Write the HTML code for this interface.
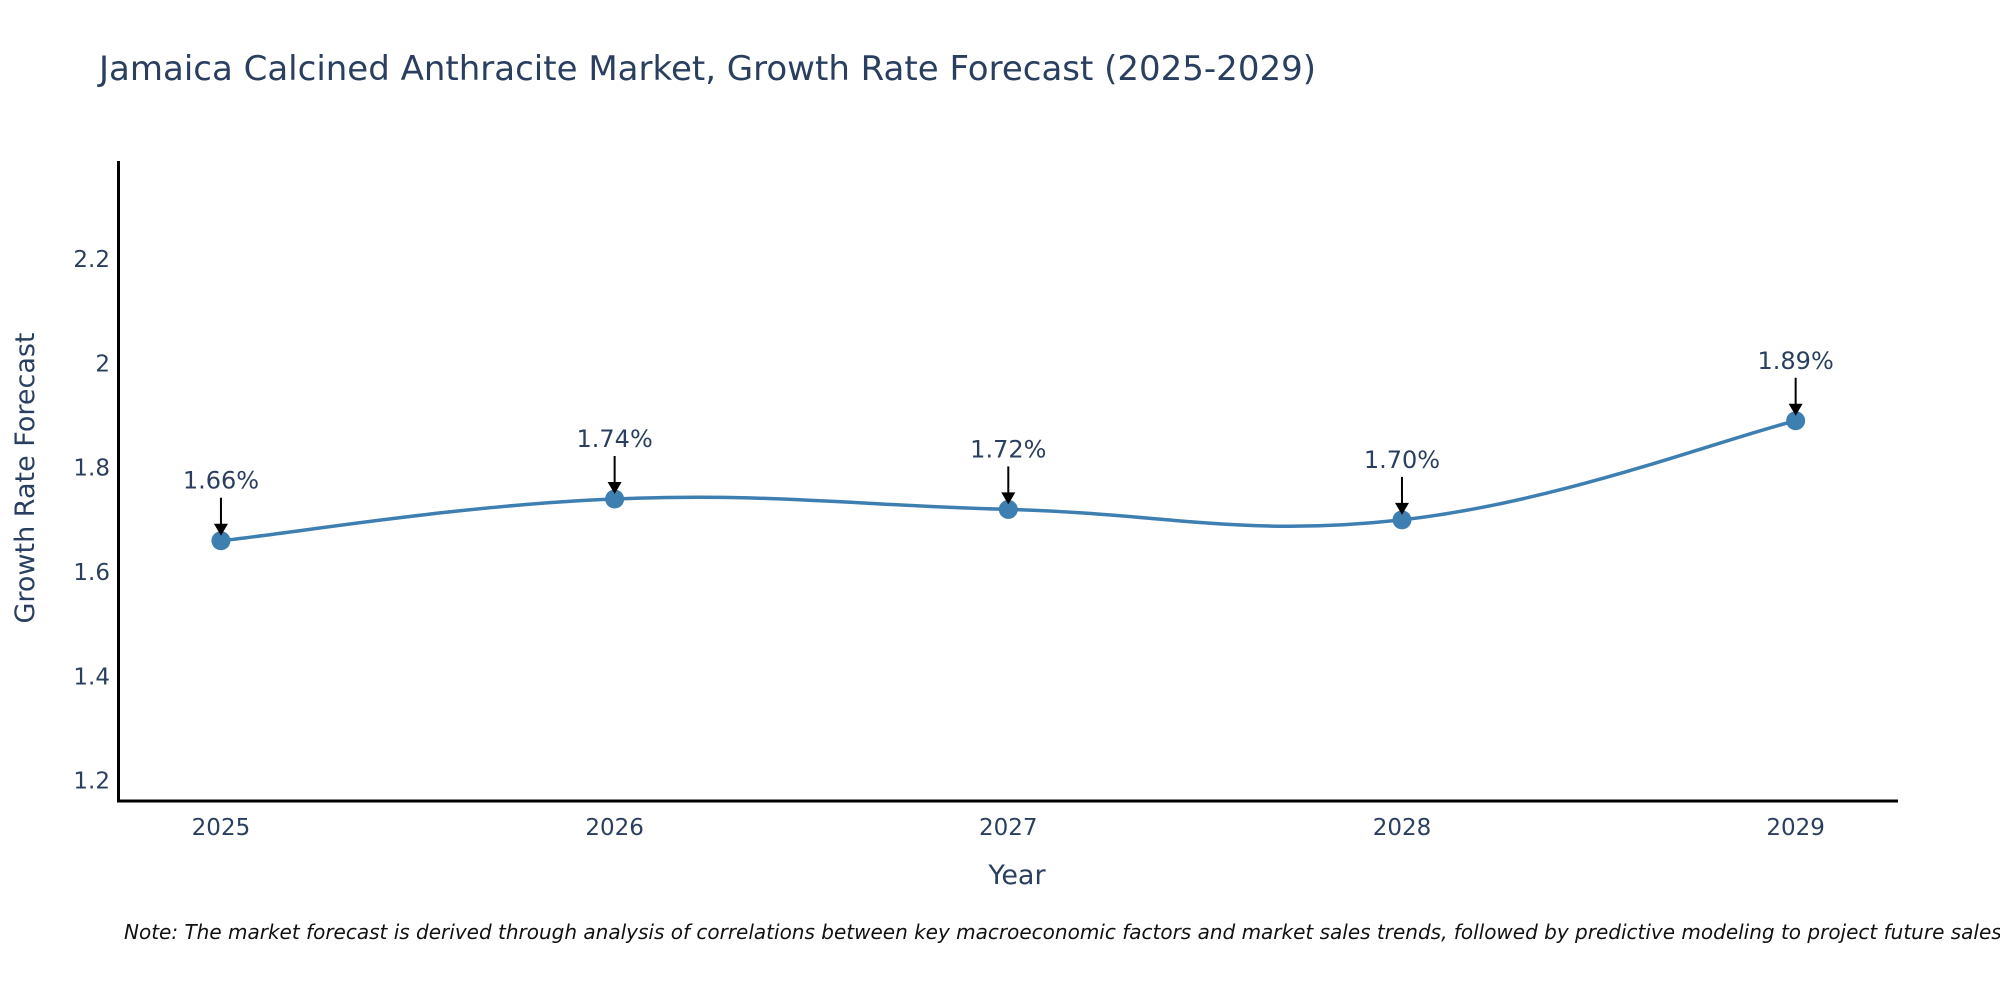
<!DOCTYPE html>
<html><head><meta charset="utf-8"><style>
body{margin:0;background:#fff;}
svg{display:block;font-family:"DejaVu Sans","Liberation Sans",sans-serif;}
</style></head><body>
<svg id="chart" width="2000" height="1000">
<text x="99" y="80" font-size="34" fill="#2a3f5f">Jamaica Calcined Anthracite Market, Growth Rate Forecast (2025-2029)</text>
<g id="yticks"></g>
<g id="xticks"></g>
<g id="series"></g>
<g id="annots"></g>
<line x1="118.5" y1="161" x2="118.5" y2="802" stroke="#000" stroke-width="3"/>
<line x1="117" y1="801" x2="1898" y2="801" stroke="#000" stroke-width="3"/>
<text x="1017" y="884" font-size="27" fill="#2a3f5f" text-anchor="middle">Year</text>
<text transform="translate(34,478) rotate(-90)" font-size="27" fill="#2a3f5f" text-anchor="middle">Growth Rate Forecast</text>
<text x="124" y="939" font-size="20" font-style="italic" fill="#111">Note: The market forecast is derived through analysis of correlations between key macroeconomic factors and market sales trends, followed by predictive modeling to project future sales.</text>
</svg>
<script>
const years = [2025, 2026, 2027, 2028, 2029];
const growth = [1.66, 1.74, 1.72, 1.70, 1.89];
const labels = ["1.66%", "1.74%", "1.72%", "1.70%", "1.89%"];
const yTickValues = [1.2, 1.4, 1.6, 1.8, 2, 2.2];
const yTickLabels = ["1.2", "1.4", "1.6", "1.8", "2", "2.2"];

const NS = "http://www.w3.org/2000/svg";
const X0 = 118.6, X1 = 1898, XMIN = 2024.74, XMAX = 2029.26;
const Y0 = 801, Y1 = 161, YMIN = 1.161, YMAX = 2.388;
function xs(v){return X0 + (v - XMIN) / (XMAX - XMIN) * (X1 - X0);}
function ys(v){return Y0 - (v - YMIN) / (YMAX - YMIN) * (Y0 - Y1);}
function mk(tag, attrs, parent){const e=document.createElementNS(NS,tag);for(const k in attrs)e.setAttribute(k,attrs[k]);parent.appendChild(e);return e;}

const yt = document.getElementById('yticks');
yTickValues.forEach((v,i)=>{
  const t = mk('text',{x:110,y:ys(v)+8,'font-size':23,fill:'#2a3f5f','text-anchor':'end'},yt);
  
  
  t.textContent = yTickLabels[i];
});
const xt = document.getElementById('xticks');
years.forEach(v=>{
  const t = mk('text',{x:xs(v),y:835,'font-size':23,fill:'#2a3f5f','text-anchor':'middle'},xt);
  
  
  t.textContent = String(v);
});

const pts = years.map((y,i)=>[xs(y), ys(growth[i])]);
let d = `M${pts[0][0]},${pts[0][1]}`;
const s = 0.2;
for(let i=0;i<pts.length-1;i++){
  const p0=pts[Math.max(0,i-1)], p1=pts[i], p2=pts[i+1], p3=pts[Math.min(pts.length-1,i+2)];
  const c1=[p1[0]+(p2[0]-p0[0])*s, p1[1]+(p2[1]-p0[1])*s];
  const c2=[p2[0]-(p3[0]-p1[0])*s, p2[1]-(p3[1]-p1[1])*s];
  d += ` C${c1[0]},${c1[1]} ${c2[0]},${c2[1]} ${p2[0]},${p2[1]}`;
}
const sg = document.getElementById('series');
const line = mk('path',{d:d,fill:'none',stroke:'#3d7fb1','stroke-width':3.5},sg);


pts.forEach(p=>{
  const c = mk('circle',{cx:p[0],cy:p[1],r:9.5,fill:'#3d7fb1'},sg);
  
  
});

const ag = document.getElementById('annots');
pts.forEach((p,i)=>{
  const l = mk('line',{x1:p[0],y1:p[1]-43,x2:p[0],y2:p[1]-14,stroke:'#000','stroke-width':2},ag);
  
  
  const h = mk('polygon',{points:`${p[0]-7},${p[1]-17} ${p[0]+7},${p[1]-17} ${p[0]},${p[1]-5}`,fill:'#000'},ag);
  
  
  const t = mk('text',{x:p[0],y:p[1]-52,'font-size':24,fill:'#2a3f5f','text-anchor':'middle'},ag);
  
  
  t.textContent = labels[i];
});
</script>
</body></html>
